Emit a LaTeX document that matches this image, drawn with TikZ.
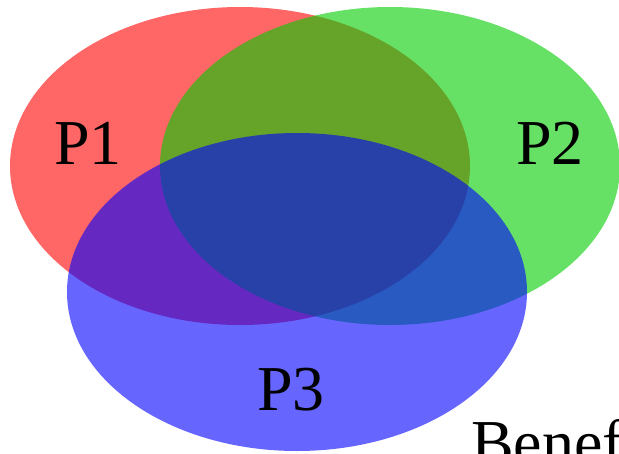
\documentclass[tikz,border=0pt]{standalone}
\usepackage{fontspec}
\setmainfont{Liberation Serif}
\usepackage{tikz}

\definecolor{setred}{RGB}{255,0,0}
\definecolor{setgreen}{RGB}{0,205,0}
\definecolor{setblue}{RGB}{0,0,255}

\begin{document}
\begin{tikzpicture}[x=1pt, y=-1pt,
  venn/.style={fill opacity=0.6},
  setlabel/.style={anchor=base, inner sep=0pt, font=\fontsize{64}{64}\selectfont}]
\useasboundingbox (0,0) rectangle (619,453);
% Sets
\fill[venn, setred] (240,166) ellipse [x radius=230pt, y radius=159pt];
\fill[venn, setgreen] (390,166) ellipse [x radius=230pt, y radius=159pt];
\fill[venn, setblue] (297,292) ellipse [x radius=230pt, y radius=159pt];
% Labels
\node[setlabel] (p1) at (88,164) {P1};
\node[setlabel] (p2) at (550,164) {P2};
\node[setlabel] (p3) at (291,410) {P3};
\node[setlabel, anchor=base west] (benef) at (471,464) {Benef};
\end{tikzpicture}
\end{document}
